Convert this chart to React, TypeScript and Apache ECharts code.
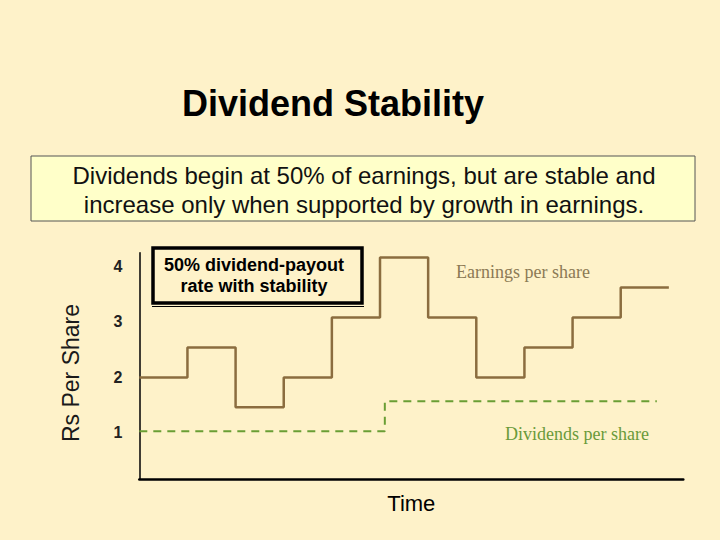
import React, { useEffect, useRef } from "react";
import * as echarts from "echarts";

// ---- data ----
const periodCount = 11; // number of time periods
const epsValues = [2, 2.5, 1.5, 2, 3, 4, 3, 2, 2.5, 3, 3.5]; // earnings per share per period
const dividendLevels = [1.1, 1.6]; // dividend per share levels
const dividendChangeAt = [0, 5.1]; // time at which each dividend level begins
const dividendEnd = 10.75;
const yTickLabels = [1, 2, 3, 4];

const title = "Dividend Stability";
const subtitleLines = [
  "Dividends begin at 50% of earnings, but are stable and",
  "increase only when supported by growth in earnings.",
];
const boxLines = ["50% dividend-payout", "rate with stability"];
const epsLabel = "Earnings per share";
const divLabel = "Dividends per share";
const yName = "Rs Per Share";
const xName = "Time";

export default function App() {
  const ref = useRef<HTMLDivElement>(null);
  useEffect(() => {
    document.body.style.margin = "0";
    const chart = echarts.init(ref.current!, undefined, { renderer: "svg" });

    const epsPoints: number[][] = epsValues.map((v, i) => [i, v]);
    epsPoints.push([periodCount, epsValues[epsValues.length - 1]]);
    const divPoints: number[][] = dividendLevels.map((v, i) => [dividendChangeAt[i], v]);
    divPoints.push([dividendEnd, dividendLevels[dividendLevels.length - 1]]);

    const sans = "Arial, 'Liberation Sans', sans-serif";
    const serif = "'Times New Roman', 'Liberation Serif', serif";

    chart.setOption({
      animation: false,
      backgroundColor: "#fef2c9",
      grid: { left: 139.3, right: 36.7, top: 252.7, bottom: 60.7 },
      xAxis: {
        type: "value",
        min: 0,
        max: 11.3,
        axisLine: { show: true, lineStyle: { color: "#000", width: 2.5 } },
        axisTick: { show: false },
        axisLabel: { show: false },
        splitLine: { show: false },
        name: xName,
        nameLocation: "middle",
        nameGap: 13,
        nameTextStyle: { fontFamily: sans, fontSize: 22, color: "#000" },
      },
      yAxis: [
        {
          type: "value",
          min: 0.3,
          max: 4.08,
          axisLine: { show: true, lineStyle: { color: "#000", width: 1.5 } },
          axisTick: { show: false },
          axisLabel: { show: false },
          splitLine: { show: false },
        },
        {
          type: "value",
          position: "left",
          min: 0.161,
          max: 4.24,
          axisLine: { show: false },
          axisTick: { show: false },
          splitLine: { show: false },
          axisLabel: {
            customValues: yTickLabels,
            margin: 17,
            fontFamily: sans,
            fontSize: 16,
            fontWeight: "bold",
            color: "#222",
          },
        },
      ],
      series: [
        {
          type: "line",
          name: epsLabel,
          step: "end",
          data: epsPoints,
          showSymbol: false,
          lineStyle: { color: "#8b6d3f", width: 2.5 },
          yAxisIndex: 0,
        },
        {
          type: "line",
          name: divLabel,
          step: "end",
          data: divPoints,
          showSymbol: false,
          lineStyle: { color: "#6a9e34", width: 2, type: [8, 6] },
          yAxisIndex: 0,
        },
      ],
      graphic: [
        {
          type: "text",
          x: 333,
          y: 103,
          style: {
            text: title,
            fontFamily: sans,
            fontSize: 36,
            fontWeight: "bold",
            fill: "#000",
            textAlign: "center",
            textVerticalAlign: "middle",
          },
        },
        {
          type: "rect",
          shape: { x: 31, y: 156, width: 664, height: 65 },
          style: { fill: "#ffffc9", stroke: "#555", lineWidth: 1 },
        },
        {
          type: "text",
          x: 364,
          y: 190,
          style: {
            text: subtitleLines.join("\n"),
            fontFamily: sans,
            fontSize: 24,
            lineHeight: 29,
            fill: "#111",
            textAlign: "center",
            textVerticalAlign: "middle",
          },
        },
        {
          type: "rect",
          shape: { x: 153, y: 248, width: 209, height: 55 },
          style: { fill: "#fef2c9", stroke: "#000", lineWidth: 3.5 },
        },
        {
          type: "line",
          shape: { x1: 152, y1: 306.5, x2: 364, y2: 306.5 },
          style: { stroke: "#000", lineWidth: 1 },
        },
        {
          type: "text",
          x: 254,
          y: 275.5,
          style: {
            text: boxLines.join("\n"),
            fontFamily: sans,
            fontSize: 18,
            fontWeight: "bold",
            lineHeight: 21,
            fill: "#000",
            textAlign: "center",
            textVerticalAlign: "middle",
          },
        },
        {
          type: "text",
          x: 523,
          y: 272,
          style: {
            text: epsLabel,
            fontFamily: serif,
            fontSize: 18,
            fill: "#8c7a55",
            textAlign: "center",
            textVerticalAlign: "middle",
          },
        },
        {
          type: "text",
          x: 577,
          y: 434,
          style: {
            text: divLabel,
            fontFamily: serif,
            fontSize: 18,
            fill: "#6a9a3a",
            textAlign: "center",
            textVerticalAlign: "middle",
          },
        },
        {
          type: "text",
          x: 71,
          y: 373,
          rotation: Math.PI / 2,
          style: {
            text: yName,
            fontFamily: sans,
            fontSize: 23,
            fill: "#1a1a1a",
            textAlign: "center",
            textVerticalAlign: "middle",
          },
        },
      ],
    });
    return () => chart.dispose();
  }, []);
  return <div ref={ref} style={{ width: 720, height: 540 }} />;
}
